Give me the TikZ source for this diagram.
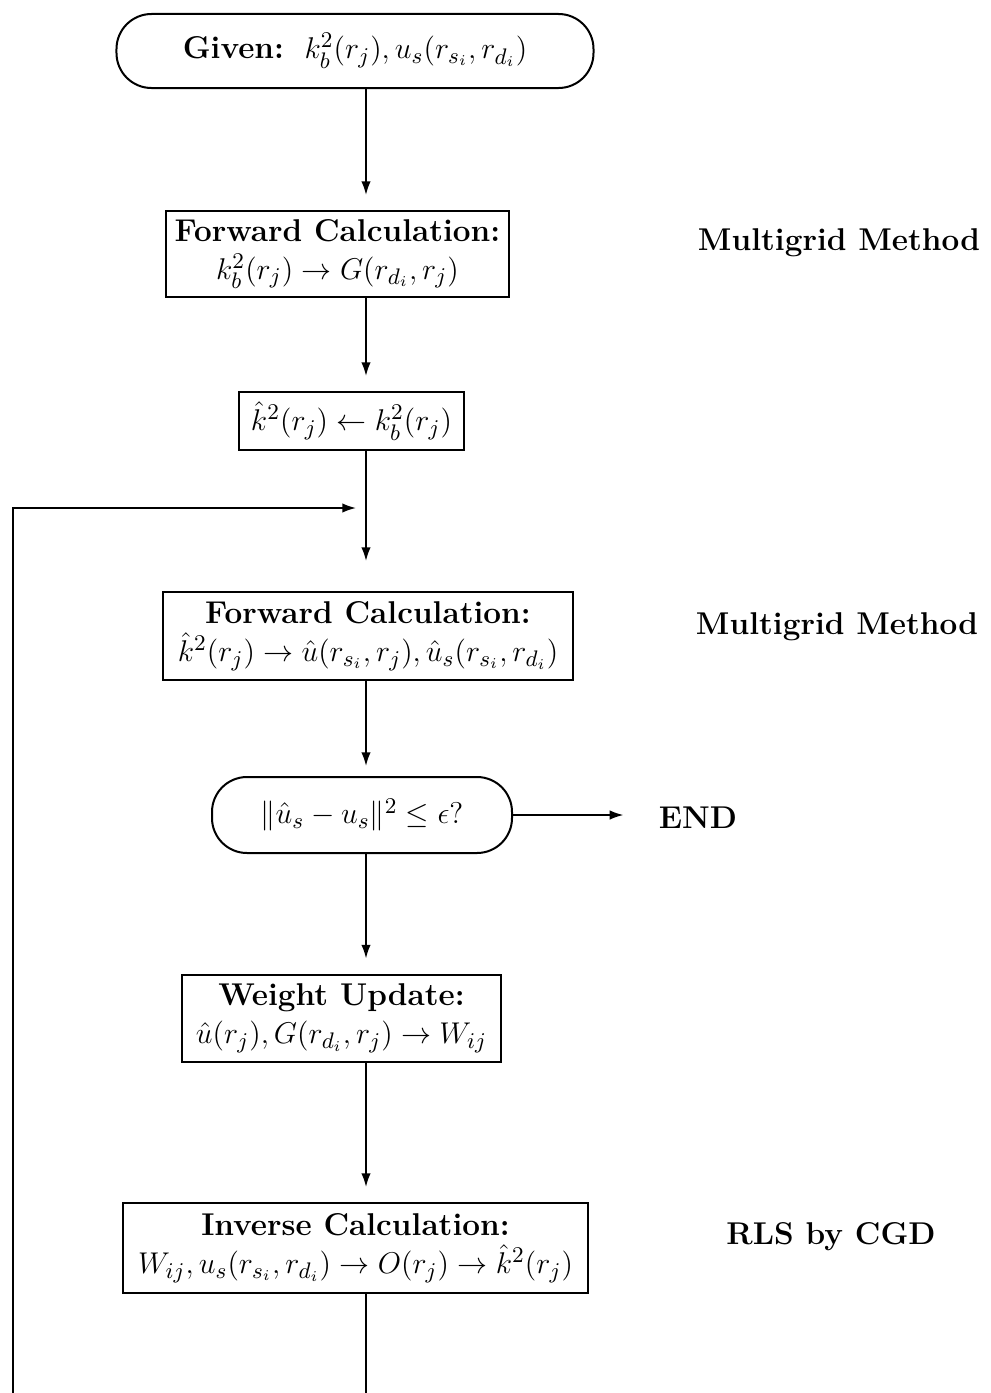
\documentclass[tikz,border=0pt]{standalone}
\usepackage{amsmath,amssymb}
\usetikzlibrary{arrows.meta}

\begin{document}
\begin{tikzpicture}[
      x=0.4pt,y=-0.4pt,
      font=\fontsize{12.6}{15.2}\selectfont,
      every node/.style={inner sep=2pt,align=center},
      box/.style={draw,line width=0.8pt},
      term/.style={draw,line width=0.8pt,rounded corners=14pt},
      flow/.style={line width=0.7pt,-{Latex[length=5.5pt,width=3.8pt]}},
      note/.style={font=\fontsize{12.6}{15.2}\selectfont\bfseries}
    ]
    \useasboundingbox (0,0) rectangle (991,1393);
    \clip (0,0) rectangle (991,1393);
    \coordinate (ax) at (366,0);
    \node (given) [term,minimum width=190.8pt,minimum height=29.6pt] at (355,51)
      {\textbf{Given:}\ \ $k_b^2(r_j), u_s(r_{s_i},r_{d_i})$};
    \node (fwa) [box,minimum width=137.2pt,minimum height=34.4pt] at (337.5,254)
      {\textbf{Forward Calculation:}\\ $k_b^2(r_j) \rightarrow G(r_{d_i},r_j)$};
    \node (init) [box,minimum width=90pt,minimum height=23.2pt] at (351.5,421)
      {$\hat{k}^2(r_j) \leftarrow k_b^2(r_j)$};
    \node (fwb) [box,minimum width=164pt,minimum height=35.2pt] at (368,636)
      {\textbf{Forward Calculation:}\\ $\hat{k}^2(r_j) \rightarrow \hat{u}(r_{s_i},r_j), \hat{u}_s(r_{s_i},r_{d_i})$};
    \node (test) [term,minimum width=120pt,minimum height=30.4pt] at (362,815)
      {$\|\hat{u}_s - u_s\|^2 \leq \epsilon?$};
    \node (wup) [box,minimum width=127.6pt,minimum height=34.8pt] at (341.5,1018)
      {\textbf{Weight Update:}\\ $\hat{u}(r_j), G(r_{d_i},r_j) \rightarrow W_{ij}$};
    \node (inv) [box,minimum width=186pt,minimum height=36pt] at (355.5,1248)
      {\textbf{Inverse Calculation:}\\ $W_{ij}, u_s(r_{s_i},r_{d_i}) \rightarrow O(r_j) \rightarrow \hat{k}^2(r_j)$};
    \node (mga) [note] at (839,243) {Multigrid Method};
    \node (mgb) [note] at (837,627) {Multigrid Method};
    \node (rls) [note] at (831,1237) {RLS by CGD};
    \node (end) [note] at (698,818) {END};
    \coordinate (join) at (366,508);
    \coordinate (bot) at (13,1420);
    \draw[flow,shorten >=6pt] (given.south -| ax) -- (fwa.north -| ax);
    \draw[flow,shorten >=6pt] (fwa.south -| ax) -- (init.north -| ax);
    \draw[line width=0.7pt] (init.south -| ax) -- (join);
    \draw[flow,shorten >=12pt] (join) -- (fwb.north -| ax);
    \draw[flow,shorten >=4pt] (fwb.south -| ax) -- (test.north -| ax);
    \draw[flow,shorten >=12pt] (test.east) -- (test.east -| end.west);
    \draw[flow,shorten >=6pt] (test.south -| ax) -- (wup.north -| ax);
    \draw[flow,shorten >=6pt] (wup.south -| ax) -- (inv.north -| ax);
    \draw[flow,shorten >=4pt] (inv.south -| ax) |- (bot) |- (join);
  \end{tikzpicture}
\end{document}
